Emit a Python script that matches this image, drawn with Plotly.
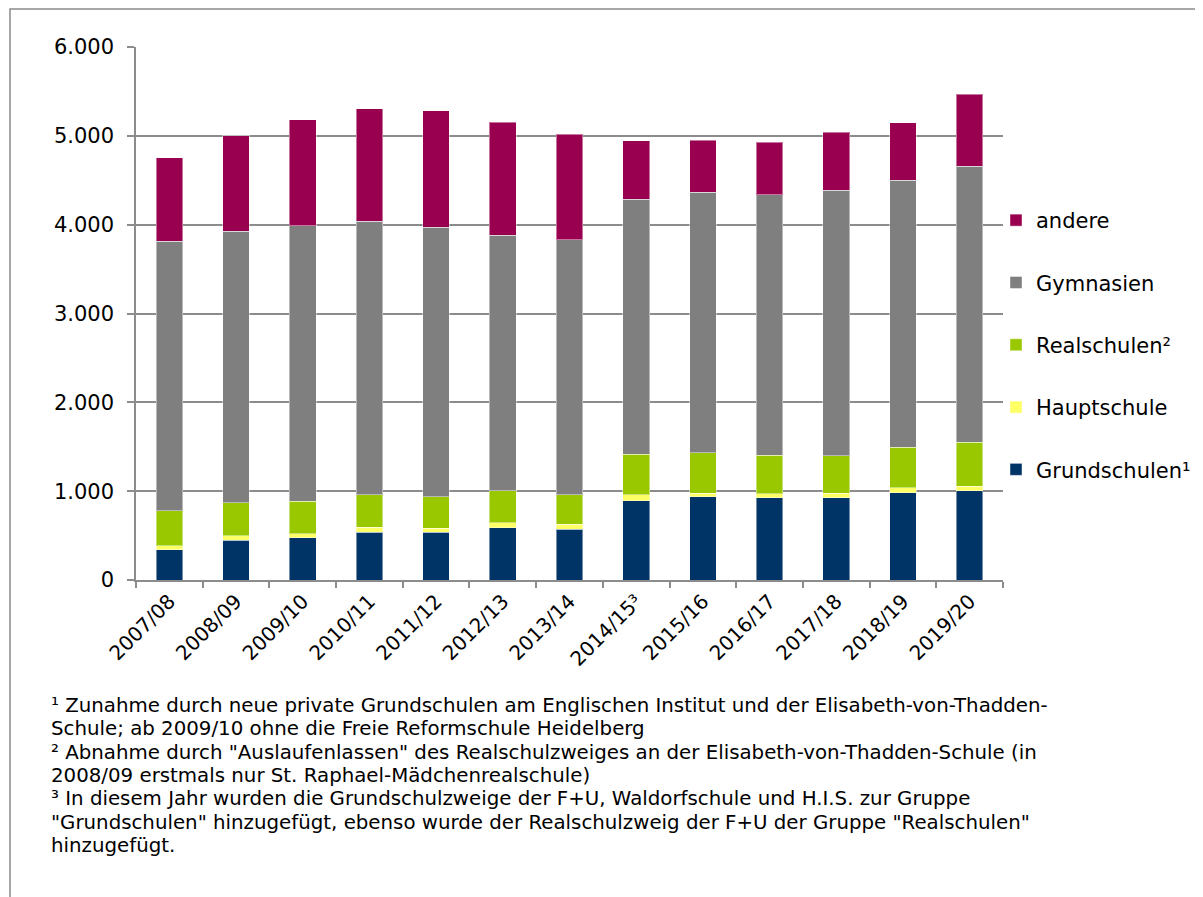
import plotly.graph_objects as go

years = ["2007/08", "2008/09", "2009/10", "2010/11", "2011/12", "2012/13", "2013/14",
         "2014/15³", "2015/16", "2016/17", "2017/18", "2018/19", "2019/20"]

grundschulen = [338, 450, 476, 540, 540, 589, 571, 893, 938, 927, 927, 983, 1005]
hauptschule = [45, 49, 45, 53, 45, 56, 56, 64, 41, 45, 52, 53, 53]
realschulen = [394, 371, 368, 364, 353, 357, 330, 458, 451, 432, 417, 461, 495]
gymnasien = [3036, 3056, 3097, 3081, 3033, 2879, 2876, 2871, 2935, 2934, 2991, 3002, 3104]
andere = [942, 1076, 1197, 1265, 1313, 1274, 1187, 660, 585, 589, 653, 649, 810]

series = [
    ("Grundschulen¹", grundschulen, "#003366"),
    ("Hauptschule", hauptschule, "#FFFF66"),
    ("Realschulen²", realschulen, "#99C800"),
    ("Gymnasien", gymnasien, "#7F7F7F"),
    ("andere", andere, "#99004F"),
]

y_ticks = [0, 1000, 2000, 3000, 4000, 5000, 6000]
y_ticklabels = ["0", "1.000", "2.000", "3.000", "4.000", "5.000", "6.000"]

footnote_lines = [
    "¹ Zunahme durch neue private Grundschulen am Englischen Institut und der Elisabeth-von-Thadden-",
    "Schule; ab 2009/10 ohne die Freie Reformschule Heidelberg",
    "² Abnahme durch \"Auslaufenlassen\" des Realschulzweiges an der Elisabeth-von-Thadden-Schule (in",
    "2008/09 erstmals nur St. Raphael-Mädchenrealschule)",
    "³ In diesem Jahr wurden die Grundschulzweige der F+U, Waldorfschule und H.I.S. zur Gruppe",
    "\"Grundschulen\" hinzugefügt, ebenso wurde der Realschulzweig der F+U der Gruppe \"Realschulen\"",
    "hinzugefügt.",
]

FONT = "DejaVu Sans, Liberation Sans, Arial, sans-serif"

fig = go.Figure()
n = len(series)
for i, (name, vals, color) in enumerate(series):
    fig.add_trace(go.Bar(
        x=years, y=vals, name=name, legendgroup=name, legendrank=n - i,
        marker=dict(color=color, line=dict(color="rgba(255,255,255,0.45)", width=1)),
    ))

# page is offset by the 8px body margin
OFF = 8
W, H = 1203 - OFF, 897 - OFF
L, T = 136 - OFF, 47 - OFF
R = W - (1003 - OFF)
B = H - (580 - OFF)
pw = W - L - R
ph = H - T - B

def px_x(p):
    return (p - OFF - L) / pw

def px_y(p):
    return (H - B - (p - OFF)) / ph

grid_col = "#8C8C8C"

annotations = []
for i, line in enumerate(footnote_lines):
    annotations.append(dict(
        text=line, xref="paper", yref="paper",
        x=px_x(50), y=px_y(705.5 + 23.3 * i), xanchor="left", yanchor="middle",
        align="left", showarrow=False, borderpad=0, font=dict(size=19.8),
    ))

fig.update_layout(
    width=W, height=H,
    margin=dict(l=L, r=R, t=T, b=B, autoexpand=False),
    barmode="stack", bargap=0.6,
    plot_bgcolor="white", paper_bgcolor="white",
    font=dict(family=FONT, color="black", size=21),
    legend=dict(
        x=px_x(996), xanchor="left", y=px_y(200), yanchor="top",
        traceorder="grouped", tracegroupgap=32,
        font=dict(size=21), bgcolor="rgba(0,0,0,0)",
    ),
    xaxis=dict(
        type="category", tickangle=-45, tickson="boundaries", ticks="outside",
        ticklen=6, tickcolor=grid_col, tickwidth=1.5,
        showline=True, linecolor=grid_col, linewidth=1.5,
        tickfont=dict(size=20), showgrid=False,
    ),
    yaxis=dict(
        range=[0, 6000], tickvals=y_ticks, ticktext=y_ticklabels,
        ticks="outside", ticklen=7, tickcolor=grid_col, tickwidth=1.5,
        showline=True, linecolor=grid_col, linewidth=1.5,
        showgrid=True, gridcolor=grid_col, gridwidth=1.5,
        tickfont=dict(size=21), zeroline=False, ticklabelstandoff=9,
    ),
    shapes=[dict(
        type="rect", xref="paper", yref="paper",
        x0=px_x(10), x1=px_x(1240), y0=px_y(940), y1=px_y(9),
        line=dict(color="#8A8A8A", width=1.5), fillcolor="rgba(0,0,0,0)", layer="below",
    )],
    annotations=annotations,
)

fig.write_html("out.html")
